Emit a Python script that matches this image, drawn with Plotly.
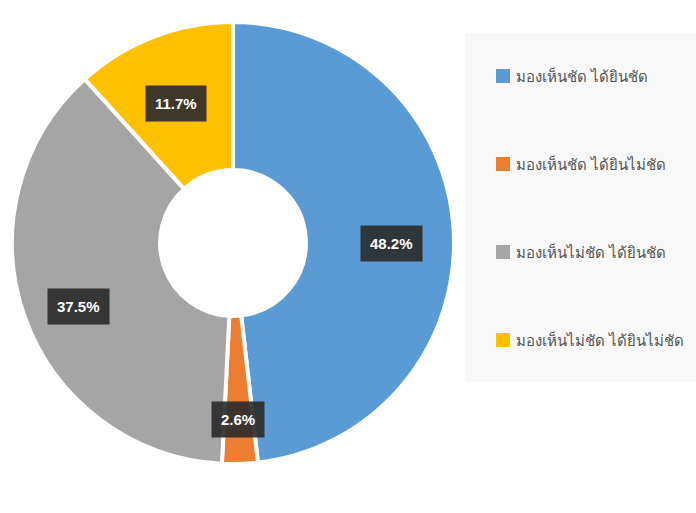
import numpy as np
import plotly.graph_objects as go

labels = ["มองเห็นชัด ได้ยินชัด", "มองเห็นชัด ได้ยินไม่ชัด", "มองเห็นไม่ชัด ได้ยินชัด", "มองเห็นไม่ชัด ได้ยินไม่ชัด"]
values = [48.2, 2.6, 37.5, 11.7]
colors = ["#5B9BD5", "#ED7D31", "#A5A5A5", "#FFC000"]

W, H = 696, 513
cx, cy, R = 233, 243, 221  # pixels from top-left

fig = go.Figure(go.Pie(
    labels=labels, values=values, sort=False, direction="clockwise", rotation=0,
    hole=0.33, textinfo="none", hoverinfo="label+percent",
    marker=dict(colors=colors, line=dict(color="white", width=4)),
    domain=dict(x=[(cx - R) / W, (cx + R) / W], y=[(H - cy - R) / H, (H - cy + R) / H]),
    showlegend=False,
))

# value labels in dark boxes, placed at slice mid-angles
vals = np.array(values)
cum = np.cumsum(vals) - vals / 2
angles = cum / vals.sum() * 2 * np.pi
fracs = [0.72, 0.76, 0.74, 0.72]
for v, a, f in zip(values, angles, fracs):
    px = cx + R * f * np.sin(a)
    py = cy - R * f * np.cos(a)
    fig.add_annotation(x=px / W, y=1 - py / H, xref="paper", yref="paper",
                       xanchor="center", yanchor="middle",
                       text=f"<b>{v:.1f}%</b>", showarrow=False, yshift=-9,
                       font=dict(color="white", size=15, family="Liberation Sans, Arial, sans-serif"),
                       bgcolor="rgba(45,45,45,0.92)", borderpad=9)

# legend panel
fig.add_shape(type="rect", xref="paper", yref="paper",
              x0=465 / W, x1=1.0, y0=1 - 382 / H, y1=1 - 33 / H,
              fillcolor="#F8F8F8", line=dict(width=0), layer="below")
ys = [76, 164, 252, 340]
for lab, col, yy in zip(labels, colors, ys):
    fig.add_shape(type="rect", xref="paper", yref="paper",
                  x0=496 / W, x1=510 / W, y0=1 - (yy + 7) / H, y1=1 - (yy - 7) / H,
                  fillcolor=col, line=dict(width=0))
    fig.add_annotation(x=514 / W, y=1 - yy / H, xref="paper", yref="paper",
                       xanchor="left", yanchor="middle", text=lab, showarrow=False,
                       font=dict(color="#555555", size=15, family="Noto Sans, sans-serif"))

fig.update_layout(width=W, height=H, margin=dict(l=0, r=0, t=0, b=0),
                  paper_bgcolor="white", plot_bgcolor="white")
fig.write_html("out.html", post_script="document.body.style.margin='0';",
               config={"displayModeBar": False})
